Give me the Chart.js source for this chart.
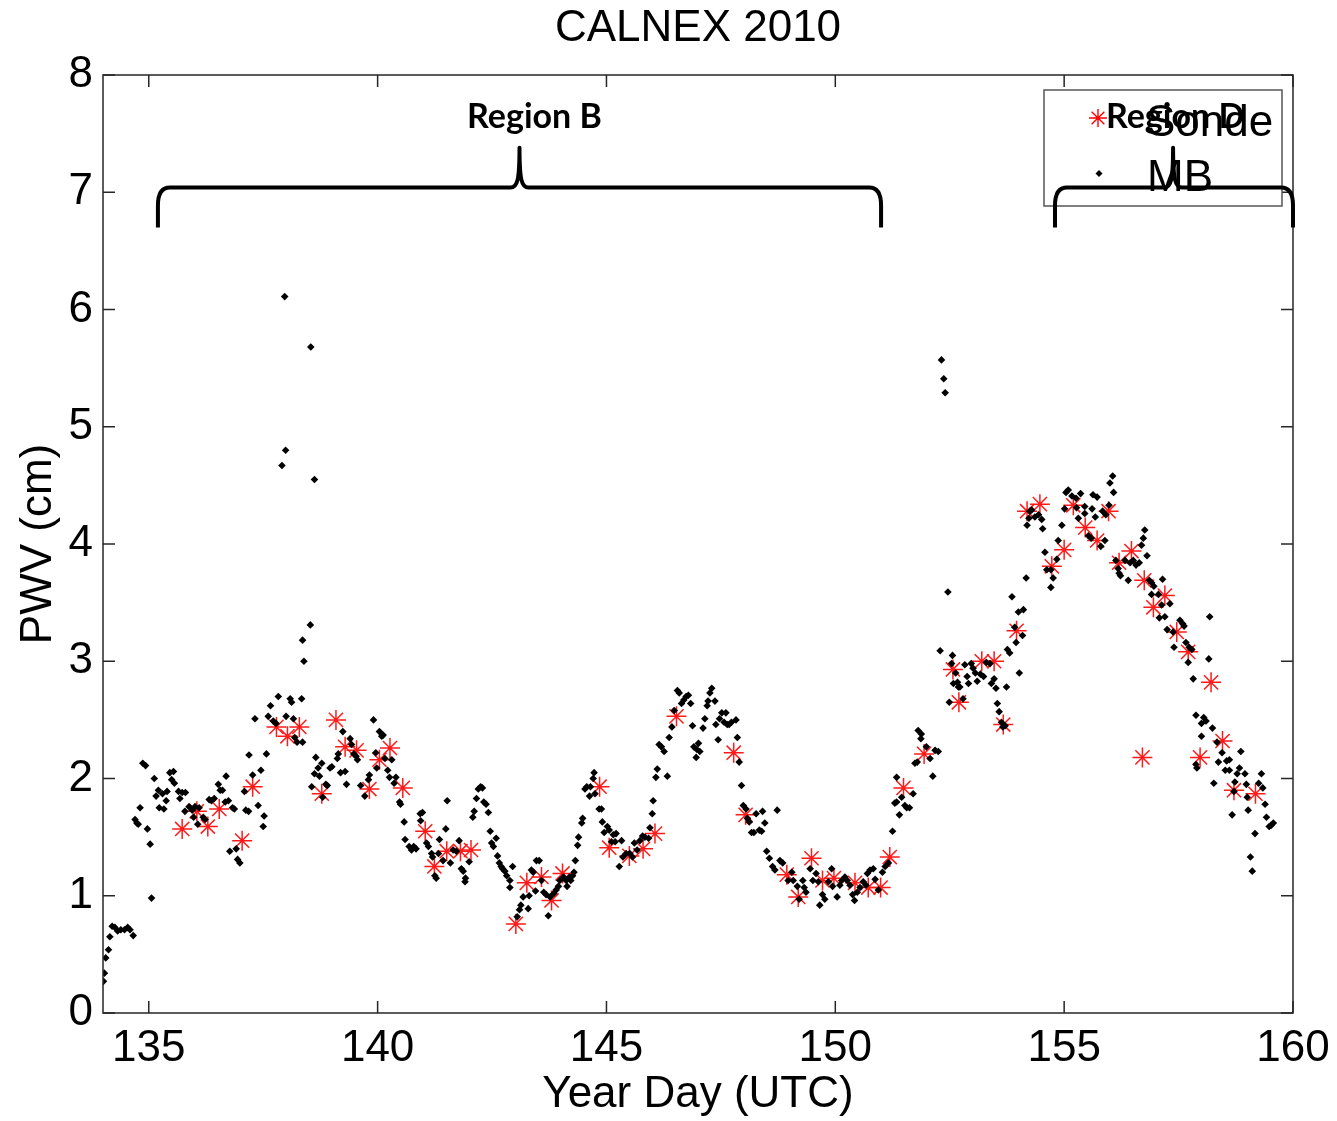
<!DOCTYPE html>
<html>
<head>
<meta charset="utf-8">
<script src="https://cdn.jsdelivr.net/npm/chart.js@4.4.1/dist/chart.umd.min.js"></script>
<style>
  html, body { margin: 0; padding: 0; background: #fff; }
  #wrap { width: 1337px; height: 1121px; }
</style>
</head>
<body>
<div id="wrap"><canvas id="chart-pwv" width="1337" height="1121"></canvas></div>
<script>
// radiosonde PWV (red asterisks)
const sondeDay = [135.73, 136.05, 136.29, 136.54, 137.04, 137.27, 137.79, 138.03, 138.29, 138.78, 139.09, 139.29, 139.54, 139.82, 140.04, 140.27, 140.55, 141.04, 141.24, 141.51, 141.81, 142.04, 143.02, 143.26, 143.58, 143.80, 144.04, 144.85, 145.06, 145.50, 145.80, 146.06, 146.53, 147.78, 148.04, 148.94, 149.19, 149.48, 149.72, 149.97, 150.43, 150.72, 150.99, 151.19, 151.49, 151.94, 152.57, 152.70, 153.20, 153.47, 153.67, 153.96, 154.19, 154.47, 154.73, 155.00, 155.20, 155.46, 155.72, 155.97, 156.20, 156.47, 156.71, 156.75, 156.95, 157.20, 157.46, 157.71, 157.97, 158.21, 158.46, 158.71, 159.18];
const sondePwv = [1.57, 1.72, 1.59, 1.74, 1.47, 1.93, 2.44, 2.36, 2.44, 1.87, 2.50, 2.27, 2.24, 1.91, 2.16, 2.26, 1.92, 1.55, 1.25, 1.38, 1.38, 1.39, 0.76, 1.11, 1.16, 0.96, 1.19, 1.93, 1.41, 1.34, 1.40, 1.53, 2.53, 2.22, 1.69, 1.18, 0.99, 1.32, 1.13, 1.15, 1.11, 1.07, 1.07, 1.33, 1.92, 2.21, 2.93, 2.65, 3.00, 3.00, 2.46, 3.26, 4.28, 4.34, 3.81, 3.95, 4.33, 4.14, 4.03, 4.28, 3.84, 3.94, 2.18, 3.69, 3.46, 3.56, 3.25, 3.08, 2.18, 2.82, 2.32, 1.90, 1.87];

// MB retrievals [year day, PWV cm]
const mbPoints = [
  [134.01,0.27],[134.03,0.34],[134.06,0.47],[134.12,0.54],[134.15,0.65],[134.20,0.74],[134.26,0.73],[134.32,0.70],[134.39,0.71],[134.47,0.71],[134.54,0.73],[134.59,0.71],[134.66,0.66],[135.06,0.98],
  [134.70,1.65],[134.74,1.62],[134.77,1.61],[134.81,1.75],[134.87,2.13],[134.93,2.11],[134.97,1.57],[135.03,1.44],[135.12,2.00],[135.16,1.85],[135.21,1.90],[135.23,1.75],[135.30,1.87],[135.33,1.74],[135.38,1.81],[135.40,1.89],[135.46,2.05],[135.54,2.06],[135.50,1.99],[135.56,1.96],[135.65,1.89],[135.68,1.83],[135.73,1.88],[135.80,1.88],[135.79,1.72],[135.88,1.76],[135.95,1.73],[136.01,1.76],[136.10,1.75],[135.98,1.67],[136.07,1.61],[136.19,1.67],[136.23,1.65],[136.32,1.82],[136.37,1.81],[136.43,1.83],[136.52,1.95],[136.56,1.90],[136.61,1.90],[136.69,2.02],[136.67,1.80],[136.74,1.81],[136.83,1.75],[136.87,1.74],[136.77,1.38],[136.91,1.40],[136.94,1.31],[136.99,1.28],[137.09,1.89],[137.12,1.73],[137.18,1.72],[137.19,2.20],
  [137.97,6.11],[138.54,5.68],[137.99,4.80],[137.91,4.67],[138.62,4.55],[138.53,3.31],[138.36,3.18],[138.39,3.00],
  [137.83,2.70],[138.09,2.68],[138.12,2.65],[138.34,2.68],[137.66,2.62],[137.32,2.51],[137.61,2.53],[137.72,2.49],[138.00,2.53],[138.16,2.51],[137.78,2.47],[138.19,2.35],[138.24,2.31],[138.36,2.31],[137.57,2.21],[137.45,2.07],[137.27,2.03],[137.39,1.77],[137.52,1.68],[137.50,1.59],[138.65,2.18],[138.70,2.09],[138.78,2.13],[138.62,2.04],[138.73,2.02],[138.56,1.93],[138.87,1.95],[138.90,1.94],[138.80,1.84],[138.96,2.09],[139.00,2.10],[139.12,2.17],[139.14,2.21],[139.24,2.40],[139.19,2.05],[139.29,2.06],[139.32,1.95],[139.40,2.34],[139.43,2.29],[139.48,2.21],[139.53,2.19],[139.56,2.16],[139.63,1.94],[139.72,1.85],[139.82,2.03],[139.80,1.99],[139.91,2.50],[139.96,2.22],[140.04,2.40],[140.09,2.36],[140.12,2.37],[139.98,2.09],[140.16,2.17],[140.22,2.07],[140.26,2.01],[140.31,2.16],[140.40,2.01],[140.36,1.96],[140.48,1.80],[140.50,1.78],[140.58,1.63],[140.93,1.70],[140.98,1.71],[140.94,1.64],[140.60,1.48],[140.69,1.42],[140.74,1.39],[140.79,1.42],[140.84,1.40],[141.07,1.45],[141.11,1.42],[141.35,1.48],[141.49,1.57],[141.18,1.36],[141.20,1.33],[141.33,1.36],[141.25,1.17],
  [141.52,1.81],[141.28,1.15],[141.43,1.30],[141.59,1.28],[141.65,1.39],[141.72,1.38],[141.78,1.47],[141.83,1.23],[141.87,1.21],[141.92,1.15],[141.91,1.12],[142.00,1.29],[142.08,1.67],[142.11,1.72],[142.16,1.83],[142.20,1.91],[142.25,1.93],[142.29,1.92],[142.32,1.80],[142.37,1.78],[142.42,1.71],[142.46,1.55],[142.49,1.45],[142.53,1.42],[142.59,1.49],[142.62,1.34],[142.66,1.28],[142.70,1.25],[142.73,1.23],[142.78,1.21],[142.82,1.17],[142.89,1.13],[142.95,1.25],[142.89,1.07],[143.05,0.82],[143.10,0.88],[143.13,0.92],[143.18,0.99],[143.29,0.89],[143.31,1.00],[143.36,1.22],[143.40,1.20],[143.45,1.04],[143.47,1.30],[143.53,1.30],[143.58,1.13],[143.63,1.03],[143.68,1.01],[143.73,0.83],[143.77,0.99],[143.85,1.02],[143.90,1.05],[143.95,1.08],[143.98,1.13],[144.06,1.16],[144.12,1.13],[144.14,1.08],[144.19,1.16],[144.22,1.13],[144.26,1.17],[144.29,1.20],[144.32,1.30],[144.37,1.43],[144.39,1.50],[144.46,1.62],[144.48,1.66],[144.53,1.91],[144.57,1.93],[144.63,1.85],[144.65,1.93],[144.71,2.00],[144.73,2.05],[144.75,1.87],[144.84,1.74],
  [144.89,1.74],[144.91,1.63],[144.95,1.54],[145.02,1.59],[145.06,1.56],[145.15,1.52],[145.21,1.53],[145.11,1.46],[145.19,1.46],[145.33,1.47],[145.28,1.25],[145.36,1.33],[145.43,1.36],[145.51,1.36],[145.57,1.33],[145.61,1.45],[145.67,1.39],[145.73,1.47],[145.79,1.51],[145.84,1.50],[145.92,1.49],[145.95,1.58],[146.00,1.70],[146.02,1.81],[146.08,2.01],[146.11,2.08],[146.15,2.29],[146.20,2.27],[146.26,2.23],[146.33,2.02],[146.37,2.35],[146.43,2.44],[146.48,2.58],[146.55,2.75],[146.59,2.73],[146.64,2.64],[146.69,2.67],[146.74,2.70],[146.79,2.71],[146.84,2.64],[146.88,2.45],[146.91,2.27],[146.97,2.25],[146.96,2.18],[147.01,2.30],[147.04,2.23],[147.11,2.43],[147.15,2.51],[147.20,2.62],[147.22,2.66],[147.26,2.73],[147.30,2.77],[147.37,2.66],[147.39,2.46],[147.47,2.51],[147.52,2.56],[147.57,2.48],[147.61,2.56],[147.64,2.46],[147.68,2.46],[147.73,2.48],[147.83,2.50],[147.86,2.35],[147.44,2.33],[147.90,2.14],[147.95,1.94],[147.99,1.77],[148.05,1.74],[148.08,1.66],[148.12,1.63],[148.17,1.54],[148.22,1.54],[148.27,1.70],[148.34,1.56],
  [148.41,1.72],[148.46,1.62],[148.39,1.55],[148.73,1.73],[148.50,1.38],[148.56,1.32],[148.63,1.25],[148.68,1.22],[148.79,1.30],[148.85,1.28],[149.05,1.20],[148.97,1.13],[149.08,1.13],[149.17,1.08],[149.29,1.13],[149.32,1.07],[149.36,1.03],[149.21,0.97],[149.45,1.23],[149.58,1.19],[149.51,1.13],[149.63,1.12],[149.66,0.92],[149.72,1.01],[149.77,0.97],[149.85,1.12],[149.92,1.23],[149.94,1.08],[150.04,0.99],[150.10,1.09],[150.14,1.13],[150.21,1.16],[150.26,1.13],[150.32,1.09],[150.38,1.01],[150.42,0.96],[150.48,1.03],[150.54,1.07],[150.61,1.12],[150.67,1.09],[150.70,1.19],[150.76,1.22],[150.83,1.23],[150.87,1.14],[150.94,1.05],[151.03,1.20],[151.09,1.25],[151.16,1.28],[151.25,1.55],[151.30,1.79],[151.34,1.80],[151.40,1.69],[151.45,1.84],[151.52,1.77],[151.56,1.75],[151.62,1.75],[151.70,1.87],[151.34,2.01],[151.74,2.13],[151.79,2.14],[151.81,2.41],[151.88,2.38],[151.87,2.34],[151.99,2.27],[152.07,2.17],[152.13,2.02],[152.18,2.24],[152.25,2.23],[152.29,3.09],[152.56,3.05],[152.54,2.98],[152.58,2.81],[152.69,2.78],[152.49,2.65],
  [152.32,5.57],[152.37,5.41],[152.40,5.29],[152.46,3.59],[152.63,2.90],[152.83,2.97],[152.88,2.87],[152.97,2.98],[153.01,2.94],[153.06,2.90],[153.17,2.89],[153.24,2.87],[153.30,2.99],[153.38,2.98],[152.67,2.82],[152.72,2.78],[152.91,2.81],[153.10,2.83],[153.41,2.81],[153.47,2.85],[153.51,2.77],[153.74,2.78],[152.79,2.68],[153.54,2.64],[153.58,2.57],[153.63,2.48],[153.71,2.45],[153.66,2.44],[153.76,3.10],[153.81,3.07],[153.95,3.16],[153.92,3.29],[154.09,3.22],[154.00,3.42],[154.11,3.44],[154.02,2.90],[153.86,3.55],[154.17,3.71],[154.19,4.16],[154.25,4.28],[154.23,4.22],
  [154.29,4.29],[154.36,4.23],[154.44,4.25],[154.51,4.21],[154.53,4.13],[154.58,3.93],[154.62,3.78],[154.71,3.78],[154.76,3.71],[154.71,3.63],[154.84,3.87],[154.87,4.03],[154.95,4.16],[155.01,4.30],[155.04,4.44],[155.09,4.46],[155.17,4.41],[155.26,4.39],[155.36,4.43],[155.27,4.31],[155.45,4.32],[155.31,4.22],[155.61,4.30],[155.63,4.42],[155.72,4.40],[155.68,4.23],[155.45,4.26],[155.53,4.07],[155.59,4.05],[155.80,3.98],[155.89,4.03],[155.84,4.28],[155.91,4.25],[155.98,4.33],[156.00,4.52],[156.06,4.58],[156.08,4.44],[156.13,3.86],[156.18,3.79],[156.20,3.75],[156.23,3.73],[156.33,3.86],[156.40,3.69],[156.44,3.84],[156.51,3.86],[156.57,3.82],[156.64,3.84],[156.69,3.99],[156.73,4.05],[156.76,4.12],[156.81,3.90],[156.86,3.69],[156.91,3.67],[156.96,3.64],[156.91,3.57],[157.06,3.57],[157.15,3.70],[157.13,3.48],[157.08,3.37],[157.20,3.38],[157.31,3.49],[157.25,3.27],[157.38,3.25],[157.40,3.12],[157.53,3.35],[157.59,3.32],[157.62,3.30],[157.66,3.16],[157.73,3.12],[157.79,3.10],[157.71,2.99],[157.82,2.85],[158.18,3.38],[158.16,3.02],[157.88,2.54],[158.00,2.47],[158.05,2.52],[158.10,2.49],[158.24,2.43],[158.00,2.36],[158.34,2.31],[158.45,2.22],[158.37,2.14],[158.55,2.15],[158.61,2.16],[158.52,2.07],[158.61,2.07],[158.86,2.23],[158.83,2.09],[158.95,2.04],[158.78,2.04],[158.27,1.96],[157.88,2.12],[157.90,2.09],[158.73,1.97],[158.98,1.95],[158.71,1.89],[159.31,2.04],[159.25,1.96],[159.34,1.92],[159.00,1.84],[159.39,1.78],[159.42,1.67],[159.48,1.59],[159.52,1.60],[159.57,1.62],[158.67,1.69],[159.02,1.73],[159.17,1.53],[159.07,1.33],[159.11,1.21]
];

const xTicks = [135, 140, 145, 150, 155, 160];
const yTicks = [0, 1, 2, 3, 4, 5, 6, 7, 8];

// braces over the plot: name, start day, end day, cusp day
const regionNames = ['Region B', 'Region D'];
const regionStart = [135.2, 154.8];
const regionEnd = [151.0, 160.0];
const regionMid = [143.1, 157.38];

const chartTitle = 'CALNEX 2010';
const legendLabels = ['Sonde', 'MB'];

const FONT = "'Liberation Sans', Arial, sans-serif";

function drawStar(ctx, x, y, r) {
  ctx.beginPath();
  for (let k = 0; k < 4; k++) {
    const a = k * Math.PI / 4;
    ctx.moveTo(x - Math.cos(a) * r, y - Math.sin(a) * r);
    ctx.lineTo(x + Math.cos(a) * r, y + Math.sin(a) * r);
  }
  ctx.stroke();
}

function drawBrace(ctx, x0, x1, xm, yb, ye, yp) {
  ctx.beginPath();
  ctx.moveTo(x0, ye);
  ctx.lineTo(x0, yb + 18);
  ctx.quadraticCurveTo(x0, yb, x0 + 12, yb);
  ctx.lineTo(xm - 9, yb);
  ctx.bezierCurveTo(xm - 2, yb, xm, yb - 8, xm, yp);
  ctx.bezierCurveTo(xm, yb - 8, xm + 2, yb, xm + 9, yb);
  ctx.lineTo(x1 - 12, yb);
  ctx.quadraticCurveTo(x1, yb, x1, yb + 18);
  ctx.lineTo(x1, ye);
  ctx.stroke();
}

const framePlugin = {
  id: 'frame',
  afterDraw(chart) {
    const { ctx, chartArea: a, scales } = chart;
    const x = scales.x, y = scales.y;
    ctx.save();

    // title centred over the axes
    ctx.fillStyle = '#000';
    ctx.font = `44px ${FONT}`;
    ctx.textAlign = 'center';
    ctx.textBaseline = 'middle';
    ctx.fillText(chartTitle, (a.left + a.right) / 2, 29);

    ctx.strokeStyle = '#262626';
    ctx.lineWidth = 1.5;
    ctx.strokeRect(a.left, a.top, a.right - a.left, a.bottom - a.top);
    const tl = 12;
    ctx.beginPath();
    xTicks.forEach(v => {
      const px = x.getPixelForValue(v);
      ctx.moveTo(px, a.bottom); ctx.lineTo(px, a.bottom - tl);
      ctx.moveTo(px, a.top); ctx.lineTo(px, a.top + tl);
    });
    yTicks.forEach(v => {
      const py = y.getPixelForValue(v);
      ctx.moveTo(a.left, py); ctx.lineTo(a.left + tl, py);
      ctx.moveTo(a.right, py); ctx.lineTo(a.right - tl, py);
    });
    ctx.stroke();

    // legend box (MATLAB style, top right)
    const lx = a.right - 249, ly = a.top + 15, lw = 238, lh = 116;
    ctx.fillStyle = '#fff';
    ctx.fillRect(lx, ly, lw, lh);
    ctx.strokeStyle = '#555';
    ctx.lineWidth = 1.5;
    ctx.strokeRect(lx, ly, lw, lh);
    ctx.strokeStyle = '#ff0000';
    ctx.lineWidth = 1.4;
    drawStar(ctx, lx + 54, ly + 28, 9);
    ctx.fillStyle = '#000';
    ctx.beginPath();
    ctx.moveTo(lx + 55, ly + 80); ctx.lineTo(lx + 58.5, ly + 83.5);
    ctx.lineTo(lx + 55, ly + 87); ctx.lineTo(lx + 51.5, ly + 83.5);
    ctx.closePath(); ctx.fill();
    ctx.font = `44px ${FONT}`;
    ctx.textAlign = 'left';
    ctx.textBaseline = 'middle';
    ctx.fillText(legendLabels[0], lx + 102, ly + 34);
    ctx.fillText(legendLabels[1], lx + 103, ly + 89);

    // region braces
    ctx.strokeStyle = '#000';
    ctx.lineWidth = 4;
    ctx.lineJoin = 'round';
    ctx.font = `bold 34px Lato, 'Open Sans', sans-serif`;
    ctx.textAlign = 'center';
    regionNames.forEach((name, i) => {
      drawBrace(ctx,
        x.getPixelForValue(regionStart[i]), x.getPixelForValue(regionEnd[i]),
        x.getPixelForValue(regionMid[i]),
        y.getPixelForValue(7.04), y.getPixelForValue(6.70), y.getPixelForValue(7.38));
      ctx.fillText(name, x.getPixelForValue(regionMid[i]) + (i === 0 ? 15 : 2), y.getPixelForValue(7.64));
    });
    ctx.restore();
  }
};

new Chart(document.getElementById('chart-pwv'), {
  type: 'scatter',
  data: {
    datasets: [
      {
        label: 'MB',
        data: mbPoints.map(p => ({ x: p[0], y: p[1] })),
        pointStyle: 'rectRot',
        pointRadius: 3.8,
        backgroundColor: '#000',
        borderColor: '#000',
        borderWidth: 0,
        order: 0
      },
      {
        label: 'Sonde',
        data: sondeDay.map((d, i) => ({ x: d, y: sondePwv[i] })),
        pointStyle: 'star',
        pointRadius: 10,
        borderColor: '#ff1a1a',
        backgroundColor: '#ff1a1a',
        borderWidth: 1.5,
        order: 1
      }
    ]
  },
  options: {
    responsive: false,
    animation: false,
    events: [],
    layout: { padding: { top: 75, right: 44, bottom: 0, left: 0 } },
    plugins: {
      legend: { display: false },
      tooltip: { enabled: false },
      title: { display: false }
    },
    scales: {
      x: {
        type: 'linear',
        min: 134, max: 160,
        afterBuildTicks: s => { s.ticks = xTicks.map(v => ({ value: v })); },
        afterFit: s => { s.height = 108; s.paddingLeft = 0; s.paddingRight = 0; },
        grid: { display: false, drawTicks: false },
        border: { display: false },
        ticks: { color: '#000', padding: 9, maxRotation: 0, font: { family: FONT, size: 44 } },
        title: { display: true, text: 'Year Day (UTC)', color: '#000', padding: 0, font: { family: FONT, size: 44 } }
      },
      y: {
        type: 'linear',
        min: 0, max: 8,
        afterBuildTicks: s => { s.ticks = yTicks.map(v => ({ value: v })); },
        afterFit: s => { s.width = 103; s.paddingTop = 0; s.paddingBottom = 0; },
        grid: { display: false, drawTicks: false },
        border: { display: false },
        ticks: { color: '#000', padding: 10, font: { family: FONT, size: 44 } },
        title: { display: true, text: 'PWV (cm)', color: '#000', padding: 12, font: { family: FONT, size: 44 } }
      }
    }
  },
  plugins: [framePlugin]
});
</script>
</body>
</html>
